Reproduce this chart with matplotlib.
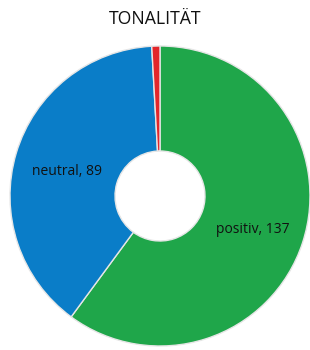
import numpy as np
import matplotlib
matplotlib.use("Agg")
from matplotlib import pyplot as plt

# data
labels = ["positiv", "neutral", "negativ"]
values = [137, 89, 2]
colors = ["#1fa64a", "#0a7dc8", "#e3262b"]
show_label = [True, True, False]

plt.rcParams['font.family'] = ['Open Sans', 'DejaVu Sans']

fig = plt.figure(figsize=(3.1, 3.5), dpi=100)
ax = fig.add_axes([10 / 310, 4 / 350, 300 / 310, 300 / 350])

wedges, _ = ax.pie(values, colors=colors, startangle=90, counterclock=False,
                   radius=1.0,
                   wedgeprops=dict(width=0.7, edgecolor="#e6e6e6", linewidth=1))
ax.set_xlim(-1, 1)
ax.set_ylim(-1, 1)
ax.set_aspect("equal")
ax.axis("off")

for w, lab, v, s in zip(wedges, labels, values, show_label):
    if not s:
        continue
    mid = np.deg2rad((w.theta1 + w.theta2) / 2)
    r = 0.65
    ax.text(r * np.cos(mid), r * np.sin(mid) - 0.02, f"{lab}, {v}",
            ha="center", va="center", fontsize=10, color="#111111")

fig.text(0.5, 0.945, "TONALITÄT", ha="center", va="center",
         fontsize=12.7, color="#111111")

fig.savefig("out.png", dpi=100)
